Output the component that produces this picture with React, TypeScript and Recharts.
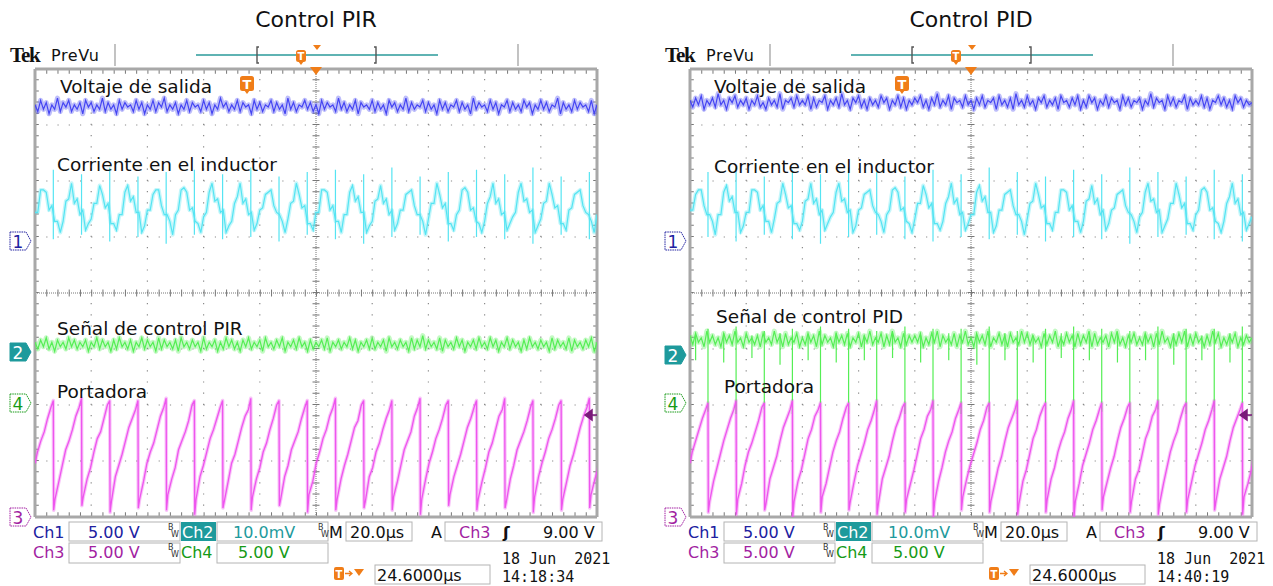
import React from 'react';
import { LineChart, Line, XAxis, YAxis, ReferenceLine } from 'recharts';

// Units: time 0..500 (50 per division, 10 divisions), level -100..100 (25 per division, 8 divisions)

const outputVoltageL = [
  84,81,86,82,85,80,84,82,87,81,85,83,86,81,84,82,85,80,86,83,
  85,81,84,82,87,81,85,82,84,80,86,82,85,83,84,81,86,82,85,80,
  84,82,86,81,85,83,87,81,84,82,85,80,84,82,86,81,85,83,84,81,
  86,82,85,80,84,82,87,83,85,81,84,82,86,81,85,83,84,80,86,82,
  85,81,84,83,86,81,85,82,84,80,87,82,85,81,84,83,86,82,85,81,
  84,80,86,82,85,83,84,81,87,82,85,81,84,82,86,80,85,83,84,82,
  86,81,85,82,84,80,86,83,85,81,84,82,87,81,85,82,84,83,86,81,
  85,82,84,80,86,82,85,81,84,83,86,81,85,82,84,80,87,82,85,83,
  84,81,86,82,85,80,84,83,86,81,85,82,84,81,86,83,85,80,84,82,
  86,82,85,81,84,83,87,80,85,82,84,81,86,82,85,83,84,81,86,80,
  84,
];
const outputVoltageR = [
  86,83,87,84,88,82,86,84,87,83,89,84,86,82,87,85,88,83,86,84,
  87,82,86,84,88,83,85,82,87,84,86,83,89,82,86,85,87,83,88,84,
  86,84,88,82,87,83,86,85,88,82,86,84,87,83,89,84,86,82,87,85,
  88,83,86,82,87,84,86,83,88,85,87,82,86,84,88,83,87,82,86,84,
  87,85,88,83,86,82,87,84,89,83,86,84,88,82,87,85,86,83,88,84,
  86,82,87,84,88,83,86,85,87,82,88,84,86,83,87,82,89,84,86,83,
  88,84,86,82,87,85,88,83,86,84,87,82,88,85,86,83,87,84,88,82,
  86,83,88,85,87,82,86,84,88,83,87,85,86,82,88,84,87,83,86,85,
  87,82,86,84,89,83,87,85,86,82,88,84,87,83,86,85,88,82,87,84,
  86,84,88,83,87,82,86,85,88,84,87,83,86,82,88,85,87,83,86,84,
  85,
];

const inductorCurrentL = [
  36,36,46,46,45,37,39,32,32,27,
  32,41,42,49,40,42,35,37,28,31,
  33,40,40,48,44,38,40,31,31,28,
  35,35,45,48,41,43,36,36,27,30,
  37,37,44,46,46,39,35,35,32,26,
  35,37,46,47,45,37,38,32,31,27,
  34,36,45,49,41,42,36,37,27,30,
  32,40,43,49,40,42,35,36,28,31,
  37,38,44,45,46,39,36,35,32,27,
  33,40,41,49,44,38,39,31,31,28,
  36,36,46,46,45,37,39,32,32,27,
  35,35,45,48,41,43,36,36,27,30,
  32,41,42,48,40,42,35,37,28,31,
  37,37,44,45,46,39,35,35,32,26,
  33,40,40,49,44,38,40,31,31,28,
  35,37,46,47,45,37,38,32,31,27,
  32,40,43,49,40,42,35,36,28,31,
  34,36,45,49,41,42,36,37,27,30,
  33,40,41,49,44,38,39,31,31,28,
  37,38,44,45,46,39,36,35,32,27,
  35,
];
const inductorCurrentR = [
  37,37,44,46,46,39,35,35,32,26,
  35,35,45,48,41,43,36,36,27,30,
  36,36,46,46,45,37,39,32,32,27,
  33,40,41,49,44,38,39,31,31,28,
  32,41,42,49,40,42,35,37,28,31,
  34,36,45,49,41,42,36,37,27,30,
  37,38,44,45,46,39,36,35,32,27,
  35,37,46,47,45,37,38,32,31,27,
  33,40,40,48,44,38,40,31,31,28,
  32,40,43,49,40,42,35,36,28,31,
  35,35,45,48,41,43,36,36,27,30,
  37,37,44,45,46,39,35,35,32,26,
  33,40,41,49,44,38,39,31,31,28,
  36,36,46,46,45,37,39,32,32,27,
  32,41,42,48,40,42,35,37,28,31,
  37,38,44,45,46,39,36,35,32,27,
  34,36,45,49,41,42,36,37,27,30,
  33,40,40,49,44,38,40,31,31,28,
  35,37,46,47,45,37,38,32,31,27,
  32,40,43,49,40,42,35,36,28,31,
  34,
];
const currentSpikesL = [
  [55,24],[53,26],[56,23],[52,25],[54,22],[55,26],[53,24],[56,25],[52,23],[54,26],
  [55,24],[53,22],[56,25],[52,26],[54,23],[55,25],[53,24],[56,22],[52,26],[54,24],
];
const currentSpikesR = [
  [54,25],[56,23],[52,26],[55,24],[53,22],[56,25],[54,26],[52,24],[55,23],[53,25],
  [56,24],[54,26],[52,23],[55,25],[53,24],[56,22],[54,25],[52,26],[55,24],[53,23],
];

const controlSignalL = [
  -22,-25,-21,-24,-20,-25,-22,-26,-21,-24,-22,-25,-20,-24,-21,-25,-22,-24,-21,-26,
  -22,-24,-20,-25,-21,-24,-22,-26,-21,-25,-20,-24,-22,-25,-21,-26,-22,-24,-20,-25,
  -21,-24,-22,-26,-20,-25,-21,-24,-22,-25,-21,-26,-20,-24,-22,-25,-21,-24,-22,-26,
  -20,-25,-22,-24,-21,-26,-22,-25,-20,-24,-21,-25,-22,-26,-21,-24,-20,-25,-22,-24,
  -21,-26,-20,-24,-22,-25,-21,-24,-20,-26,-22,-24,-21,-25,-20,-24,-22,-26,-21,-25,
  -22,-24,-21,-25,-20,-26,-22,-24,-21,-25,-22,-24,-20,-25,-21,-26,-22,-24,-21,-25,
  -20,-25,-22,-24,-21,-26,-20,-24,-22,-25,-21,-24,-22,-26,-20,-25,-21,-24,-19,-25,
  -21,-24,-22,-25,-20,-26,-21,-24,-22,-25,-20,-24,-21,-26,-22,-24,-21,-25,-20,-24,
  -22,-25,-20,-24,-21,-26,-22,-24,-20,-25,-21,-24,-22,-26,-21,-25,-20,-24,-22,-25,
  -21,-24,-22,-26,-20,-25,-21,-24,-22,-25,-20,-26,-21,-24,-22,-25,-21,-24,-20,-26,
  -22,
];
const controlSignalR = [
  -19,-23,-18,-22,-20,-24,-17,-22,-19,-23,-20,-24,-18,-22,-19,-23,-17,-22,-20,-24,
  -18,-22,-20,-23,-19,-24,-18,-22,-20,-23,-17,-22,-19,-24,-18,-23,-20,-22,-18,-24,
  -20,-23,-18,-22,-19,-24,-17,-23,-19,-22,-20,-24,-18,-22,-19,-23,-18,-24,-20,-22,
  -18,-24,-19,-22,-17,-23,-20,-22,-18,-24,-19,-23,-17,-22,-20,-24,-18,-23,-19,-22,
  -19,-22,-18,-24,-20,-23,-18,-22,-17,-24,-19,-22,-20,-23,-18,-24,-19,-22,-17,-23,
  -20,-24,-18,-22,-19,-23,-17,-24,-20,-22,-18,-23,-19,-24,-18,-22,-20,-23,-17,-22,
  -18,-23,-19,-22,-20,-24,-18,-23,-19,-22,-17,-24,-20,-23,-18,-22,-19,-24,-18,-23,
  -19,-22,-17,-24,-18,-23,-20,-22,-19,-24,-18,-22,-17,-23,-20,-24,-19,-22,-18,-23,
  -20,-23,-18,-22,-19,-24,-18,-23,-17,-22,-20,-24,-19,-23,-18,-22,-17,-24,-19,-23,
  -18,-22,-20,-24,-19,-23,-17,-22,-18,-24,-20,-23,-19,-22,-18,-24,-20,-23,-19,-22,
  -20,
];
const controlSpikesR = [
  [-16,-53],[-15,-54],[-17,-52],[-16,-54],[-15,-51],[-16,-54],[-17,-53],[-15,-54],[-16,-52],[-16,-54],
  [-15,-53],[-17,-54],[-16,-52],[-15,-54],[-16,-53],[-17,-54],[-15,-52],[-16,-54],[-16,-53],[-15,-54],
];
const controlMinorSpikeTimesR = [
  5.0, 30.0, 55.1, 80.1, 105.1, 130.1, 155.1, 180.2, 205.2, 230.2,
  255.2, 280.2, 305.3, 330.3, 355.3, 380.3, 405.3, 430.4, 455.4, 480.4,
];
const controlMinorSpikesR = [
  [-19,-30],[-18,-31],[-19,-29],[-18,-32],[-19,-30],[-18,-31],[-19,-30],[-18,-29],[-19,-31],[-18,-30],
  [-19,-32],[-18,-30],[-19,-31],[-18,-29],[-19,-30],[-18,-31],[-19,-30],[-18,-32],[-19,-30],[-18,-31],
];

const carrierPeaksL = [
  16.3, 41.4, 66.5, 91.6, 116.7, 141.8, 166.9, 192.0, 217.1, 242.2,
  267.3, 292.4, 317.5, 342.6, 367.7, 392.8, 417.9, 443.0, 468.1, 493.2,
];
const carrierPeaksR = [
  16.0, 41.0, 66.1, 91.1, 116.1, 141.1, 166.1, 191.2, 216.2, 241.2,
  266.2, 291.2, 316.3, 341.3, 366.3, 391.3, 416.3, 441.4, 466.4, 491.4,
];
const carrierTopL = [-48,-47,-48,-48,-47,-48,-48,-47,-48,-48,-47,-48,-48,-47,-48,-48,-47,-48,-48,-47];
const carrierTopR = [-49,-48,-49,-48,-49,-49,-48,-49,-48,-49,-49,-48,-49,-48,-49,-49,-48,-49,-48,-49];
const rampOffsets = [0.3, 1.5, 5, 8, 11, 14, 17, 20, 23];
const carrierRampL = [
  [-97,-92,-84,-77,-70,-66,-61,-55,-51],
  [-95,-91,-83,-78,-71,-65,-62,-56,-50],
  [-98,-93,-82,-77,-72,-66,-60,-56,-52],
  [-96,-92,-84,-76,-71,-67,-61,-55,-51],
  [-97,-90,-83,-78,-70,-66,-62,-57,-50],
  [-99,-92,-82,-77,-71,-65,-61,-56,-51],
  [-96,-93,-84,-76,-72,-66,-60,-55,-52],
  [-97,-91,-83,-78,-71,-67,-61,-56,-50],
  [-95,-92,-82,-77,-70,-66,-62,-56,-51],
  [-98,-90,-84,-76,-71,-65,-61,-55,-51],
  [-97,-92,-83,-77,-72,-66,-60,-57,-50],
  [-96,-93,-82,-78,-71,-67,-61,-56,-52],
  [-97,-91,-84,-77,-70,-66,-62,-55,-51],
  [-99,-92,-83,-76,-71,-65,-61,-56,-50],
  [-95,-90,-82,-77,-72,-66,-60,-56,-51],
  [-97,-92,-84,-78,-71,-67,-61,-55,-52],
  [-96,-93,-83,-77,-70,-66,-62,-57,-51],
  [-98,-91,-82,-76,-71,-65,-61,-56,-50],
  [-97,-92,-84,-77,-72,-66,-60,-55,-51],
  [-96,-90,-83,-78,-71,-67,-61,-56,-51],
];
const carrierRampR = [
  [-98,-93,-84,-78,-72,-66,-61,-56,-52],
  [-99,-92,-85,-77,-71,-67,-62,-57,-51],
  [-97,-94,-83,-78,-73,-66,-60,-56,-52],
  [-100,-93,-84,-79,-72,-65,-61,-55,-52],
  [-98,-91,-85,-78,-71,-66,-62,-56,-51],
  [-97,-93,-84,-77,-72,-67,-61,-57,-52],
  [-99,-94,-83,-78,-73,-66,-60,-56,-51],
  [-98,-92,-85,-79,-72,-65,-61,-55,-52],
  [-100,-93,-84,-78,-71,-66,-62,-56,-52],
  [-97,-91,-83,-77,-72,-67,-61,-57,-51],
  [-98,-93,-85,-78,-73,-66,-60,-56,-52],
  [-99,-94,-84,-79,-72,-65,-61,-55,-51],
  [-98,-92,-83,-78,-71,-66,-62,-56,-52],
  [-100,-93,-85,-77,-72,-67,-61,-57,-52],
  [-97,-91,-84,-78,-73,-66,-60,-56,-51],
  [-98,-93,-83,-79,-72,-65,-61,-55,-52],
  [-99,-94,-85,-78,-71,-66,-62,-56,-51],
  [-98,-92,-84,-77,-72,-67,-61,-57,-52],
  [-97,-93,-83,-78,-73,-66,-60,-56,-52],
  [-99,-91,-85,-79,-72,-65,-61,-55,-51],
];
const carrierStartL = [[0,-76],[2.2,-71],[5.2,-66],[8.2,-62],[11.2,-56],[14.2,-51]];
const carrierStartR = [[0,-76],[2.0,-71],[5.0,-66],[8.0,-61],[11.0,-56],[14.0,-52]];

const gridTimes = [50, 100, 150, 200, 300, 350, 400, 450];
const gridLevels = [-75, -50, -25, 25, 50, 75];

type Pt = { x: number; y: number | null };
const sampled = (vals: number[]): Pt[] => vals.map((y, i) => ({ x: (i * 500) / (vals.length - 1), y }));
const carrierSeries = (start: number[][], peaks: number[], tops: number[], ramps: number[][]): Pt[] => {
  const pts: Pt[] = start.map(([x, y]) => ({ x, y }));
  peaks.forEach((p, k) => {
    pts.push({ x: p, y: tops[k] });
    ramps[k].forEach((v, j) => pts.push({ x: p + rampOffsets[j], y: v }));
  });
  return pts;
};
const spikeSeries = (times: number[], pairs: number[][]): Pt[] =>
  times.flatMap((t, k) => [
    { x: t, y: pairs[k][0] },
    { x: t, y: pairs[k][1] },
    { x: t, y: null },
  ]);

const BLUE = '#4545f2';
const CYAN = '#55e4f2';
const GREEN = '#55ee55';
const MAGENTA = '#ee55ee';
const M = 6;
const FONT = '"DejaVu Sans", Verdana, sans-serif';

type Series = { data: Pt[]; color: string; w?: number; halo?: number; haloOpacity?: number };
type ScopeProps = { left: number; series: Series[] };

function Scope({ left, series }: ScopeProps) {
  const dot = '#8a8a8a';
  const halos = series.filter((s) => s.halo);
  return (
    <div style={{ position: 'absolute', left: left - M, top: 69 - M }}>
      <LineChart width={562 + 2 * M} height={448 + 2 * M} margin={{ top: M, right: M, bottom: M, left: M }}>
        <XAxis type="number" dataKey="x" domain={[0, 500]} hide allowDataOverflow />
        <YAxis type="number" dataKey="y" domain={[-100, 100]} hide allowDataOverflow />
        {gridTimes.map((t) => (
          <ReferenceLine key={'gt' + t} x={t} stroke={dot} strokeWidth={1.2} strokeDasharray="1.2 10" />
        ))}
        {gridLevels.map((v) => (
          <ReferenceLine key={'gl' + v} y={v} stroke={dot} strokeWidth={1.2} strokeDasharray="1.2 10.04" />
        ))}
        <ReferenceLine x={250} stroke="#777" strokeDasharray="1 1" />
        <ReferenceLine y={0} stroke="#777" strokeDasharray="1 1" />
        <ReferenceLine x={250} stroke="#777" strokeWidth={7} strokeDasharray="1 10.2" />
        <ReferenceLine y={0} stroke="#777" strokeWidth={7} strokeDasharray="1 10.24" />
        <ReferenceLine x={1.6} stroke="#777" strokeWidth={4} strokeDasharray="1 10.2" />
        <ReferenceLine x={498.4} stroke="#777" strokeWidth={4} strokeDasharray="1 10.2" />
        <ReferenceLine y={98.8} stroke="#777" strokeWidth={4} strokeDasharray="1 10.24" />
        <ReferenceLine y={-98.8} stroke="#777" strokeWidth={4} strokeDasharray="1 10.24" />
        <ReferenceLine x={0} stroke="#a8a8a8" strokeWidth={3} />
        <ReferenceLine x={500} stroke="#a8a8a8" strokeWidth={3} />
        <ReferenceLine y={100} stroke="#a8a8a8" strokeWidth={3} />
        <ReferenceLine y={-100} stroke="#a8a8a8" strokeWidth={3} />
        {halos.map((s, i) => (
          <Line
            key={'h' + i}
            data={s.data}
            dataKey="y"
            type="linear"
            stroke={s.color}
            strokeOpacity={s.haloOpacity ?? 0.3}
            strokeWidth={s.halo}
            strokeLinejoin="round"
            dot={false}
            activeDot={false}
            isAnimationActive={false}
            connectNulls={false}
          />
        ))}
        {series.map((s, i) => (
          <Line
            key={'s' + i}
            data={s.data}
            dataKey="y"
            type="linear"
            stroke={s.color}
            strokeWidth={s.w ?? 1.2}
            dot={false}
            activeDot={false}
            isAnimationActive={false}
            connectNulls={false}
          />
        ))}
      </LineChart>
    </div>
  );
}

function Marker({ x, y, label, color, filled }: { x: number; y: number; label: string; color: string; filled?: boolean }) {
  return (
    <g>
      <path
        d={`M ${x} ${y - 9} H ${x + 16} L ${x + 21} ${y} L ${x + 16} ${y + 9} H ${x} Z`}
        fill={filled ? color : '#fff'}
        stroke={color}
        strokeWidth={1}
        strokeDasharray={filled ? undefined : '1.5 0.8'}
      />
      <text x={x + 8} y={y + 6.5} textAnchor="middle" fontSize={17} fill={filled ? '#fff' : color} fontFamily={FONT}>
        {label}
      </text>
    </g>
  );
}

function TIcon({ x, y, w, h, fs }: { x: number; y: number; w: number; h: number; fs: number }) {
  return (
    <g>
      <rect x={x} y={y} width={w} height={h} rx={2.5} fill="#f07d18" />
      <path d={`M ${x + w / 2 - 3} ${y + h - 1} L ${x + w / 2} ${y + h + 3} L ${x + w / 2 + 3} ${y + h - 1} Z`} fill="#f07d18" />
      <text x={x + w / 2} y={y + h - 2} textAnchor="middle" fontSize={fs} fontWeight="bold" fill="#fff" fontFamily={FONT}>
        T
      </text>
    </g>
  );
}

function BW({ x, y }: { x: number; y: number }) {
  return (
    <g fontSize={8} fill="#333" fontFamily={FONT}>
      <text x={x} y={y - 3}>B</text>
      <text x={x + 3} y={y + 4}>W</text>
    </g>
  );
}

type DecorProps = {
  dx: number;
  title: string;
  labels: { text: string; x: number; y: number }[];
  time: string;
  m2: number;
};

function Decor({ dx, title, labels, time, m2 }: DecorProps) {
  const X = (v: number) => v + dx;
  const dark = '#2020a0';
  const teal = '#1e9a9c';
  const purple = '#a21fa2';
  const green = '#169a16';
  return (
    <g fontFamily={FONT}>
      <text x={X(316)} y={27} textAnchor="middle" fontSize={22} fill="#111">{title}</text>
      <text x={X(10)} y={62} fontFamily='"Liberation Serif", serif' fontWeight="bold" fontSize={21} letterSpacing={-1.2} fill="#111">Tek</text>
      <text x={X(51)} y={61} fontSize={16} letterSpacing={0.6} fill="#111">PreVu</text>
      <line x1={X(115)} y1={44} x2={X(115)} y2={66} stroke="#9a9a9a" strokeWidth={1.2} />
      <line x1={X(518)} y1={44} x2={X(518)} y2={66} stroke="#9a9a9a" strokeWidth={1.2} />
      <line x1={X(196)} y1={55} x2={X(438)} y2={55} stroke="#2a9a9a" strokeWidth={1.4} />
      <path d={`M ${X(259)} 47 H ${X(257)} V 63 H ${X(259)}`} stroke="#555" strokeWidth={1.4} fill="none" />
      <path d={`M ${X(374)} 47 H ${X(376)} V 63 H ${X(374)}`} stroke="#555" strokeWidth={1.4} fill="none" />
      <TIcon x={X(296)} y={50} w={10} h={12} fs={10} />
      <path d={`M ${X(313)} 45 L ${X(321)} 45 L ${X(317)} 50 Z`} fill="#f07d18" />
      <path d={`M ${X(310)} 67 L ${X(322)} 67 L ${X(316)} 75 Z`} fill="#f07d18" />
      <TIcon x={X(240)} y={76} w={14} h={15} fs={13} />
      {labels.map((l) => (
        <text key={l.text} x={X(l.x)} y={l.y} fontSize={18.5} fill="#111">{l.text}</text>
      ))}
      <Marker x={X(10)} y={241} label="1" color={dark} />
      <Marker x={X(10)} y={m2} label="2" color={teal} filled />
      <Marker x={X(10)} y={403} label="4" color={green} />
      <Marker x={X(10)} y={517} label="3" color={purple} />
      <path d={`M ${X(585)} 415 L ${X(592)} 410 L ${X(592)} 420 Z M ${X(592)} 415 H ${X(597)}`} fill="#7a1a7a" stroke="#7a1a7a" strokeWidth={1.5} />

      <g fontSize={16}>
        <text x={X(33)} y={538} fill={dark}>Ch1</text>
        <rect x={X(69)} y={522} width={111} height={19} fill="#fff" stroke="#b4b4b4" />
        <text x={X(88)} y={538} fill={dark}>5.00 V</text>
        <BW x={X(168)} y={533} />
        <rect x={X(181)} y={522} width={35} height={19} fill={teal} />
        <text x={X(182)} y={538} fill="#fff">Ch2</text>
        <rect x={X(217)} y={522} width={111} height={19} fill="#fff" stroke="#b4b4b4" />
        <text x={X(233)} y={538} fill={teal}>10.0mV</text>
        <BW x={X(318)} y={533} />
        <text x={X(329)} y={538} fill="#111">M</text>
        <rect x={X(346)} y={522} width={66} height={19} fill="#fff" stroke="#b4b4b4" />
        <text x={X(350)} y={538} fill="#111">20.0µs</text>
        <text x={X(431)} y={538} fill="#111">A</text>
        <rect x={X(445)} y={522} width={157} height={19} fill="#fff" stroke="#b4b4b4" />
        <text x={X(459)} y={538} fill={purple}>Ch3</text>
        <text x={X(503)} y={538} fill="#111" fontWeight="bold">ʃ</text>
        <text x={X(543)} y={538} fill="#111">9.00 V</text>

        <text x={X(33)} y={558} fill={purple}>Ch3</text>
        <rect x={X(69)} y={543} width={111} height={20} fill="#fff" stroke="#b4b4b4" />
        <text x={X(88)} y={558} fill={purple}>5.00 V</text>
        <BW x={X(168)} y={553} />
        <text x={X(181)} y={558} fill={green}>Ch4</text>
        <rect x={X(217)} y={543} width={111} height={20} fill="#fff" stroke="#b4b4b4" />
        <text x={X(238)} y={558} fill={green}>5.00 V</text>

        <rect x={X(334)} y={567} width={10} height={13} rx={2} fill="#f07d18" />
        <text x={X(339)} y={578} textAnchor="middle" fontSize={10} fontWeight="bold" fill="#fff">T</text>
        <path d={`M ${X(345)} 573.5 H ${X(351)} M ${X(349)} 571 L ${X(352)} 573.5 L ${X(349)} 576`} stroke="#f07d18" strokeWidth={1.3} fill="none" />
        <path d={`M ${X(354)} 569 L ${X(364)} 569 L ${X(359)} 576 Z`} fill="#f07d18" />
        <rect x={X(375)} y={565} width={115} height={19} fill="#fff" stroke="#b4b4b4" />
        <text x={X(377)} y={581} fill="#111">24.6000µs</text>
        <text x={X(502)} y={563.5} fontSize={15} fill="#111" fontFamily='"DejaVu Sans Mono", monospace' xmlSpace="preserve">18 Jun  2021</text>
        <text x={X(502)} y={582} fontSize={15} fill="#111" fontFamily='"DejaVu Sans Mono", monospace'>{time}</text>
      </g>
    </g>
  );
}

export default function App() {
  const left: Series[] = [
    { data: sampled(outputVoltageL), color: BLUE, halo: 5, haloOpacity: 0.35 },
    { data: sampled(inductorCurrentL), color: CYAN, halo: 4, haloOpacity: 0.35 },
    { data: spikeSeries(carrierPeaksL, currentSpikesL), color: CYAN },
    { data: sampled(controlSignalL), color: GREEN, halo: 5, haloOpacity: 0.35 },
    { data: carrierSeries(carrierStartL, carrierPeaksL, carrierTopL, carrierRampL), color: MAGENTA, w: 1.3, halo: 3.5, haloOpacity: 0.35 },
  ];
  const right: Series[] = [
    { data: sampled(outputVoltageR), color: BLUE, halo: 5, haloOpacity: 0.35 },
    { data: sampled(inductorCurrentR), color: CYAN, halo: 4, haloOpacity: 0.35 },
    { data: spikeSeries(carrierPeaksR, currentSpikesR), color: CYAN },
    { data: sampled(controlSignalR), color: GREEN, halo: 5, haloOpacity: 0.35 },
    { data: spikeSeries(carrierPeaksR, controlSpikesR), color: GREEN },
    { data: spikeSeries(controlMinorSpikeTimesR, controlMinorSpikesR), color: GREEN },
    { data: carrierSeries(carrierStartR, carrierPeaksR, carrierTopR, carrierRampR), color: MAGENTA, w: 1.3, halo: 3.5, haloOpacity: 0.35 },
  ];
  return (
    <div style={{ position: 'absolute', left: 0, top: 0, width: 1273, height: 586, background: '#fff', overflow: 'hidden' }}>
      <Scope left={35} series={left} />
      <Scope left={690} series={right} />
      <svg width={1273} height={586} style={{ position: 'absolute', left: 0, top: 0, pointerEvents: 'none' }}>
        <Decor
          dx={0}
          title="Control PIR"
          m2={352}
          time="14:18:34"
          labels={[
            { text: 'Voltaje de salida', x: 60, y: 93 },
            { text: 'Corriente en el inductor', x: 57, y: 171 },
            { text: 'Señal de control PIR', x: 57, y: 335 },
            { text: 'Portadora', x: 57, y: 398 },
          ]}
        />
        <Decor
          dx={655}
          title="Control PID"
          m2={355}
          time="14:40:19"
          labels={[
            { text: 'Voltaje de salida', x: 59, y: 93 },
            { text: 'Corriente en el inductor', x: 59, y: 173 },
            { text: 'Señal de control PID', x: 61, y: 323 },
            { text: 'Portadora', x: 69, y: 393 },
          ]}
        />
      </svg>
    </div>
  );
}
